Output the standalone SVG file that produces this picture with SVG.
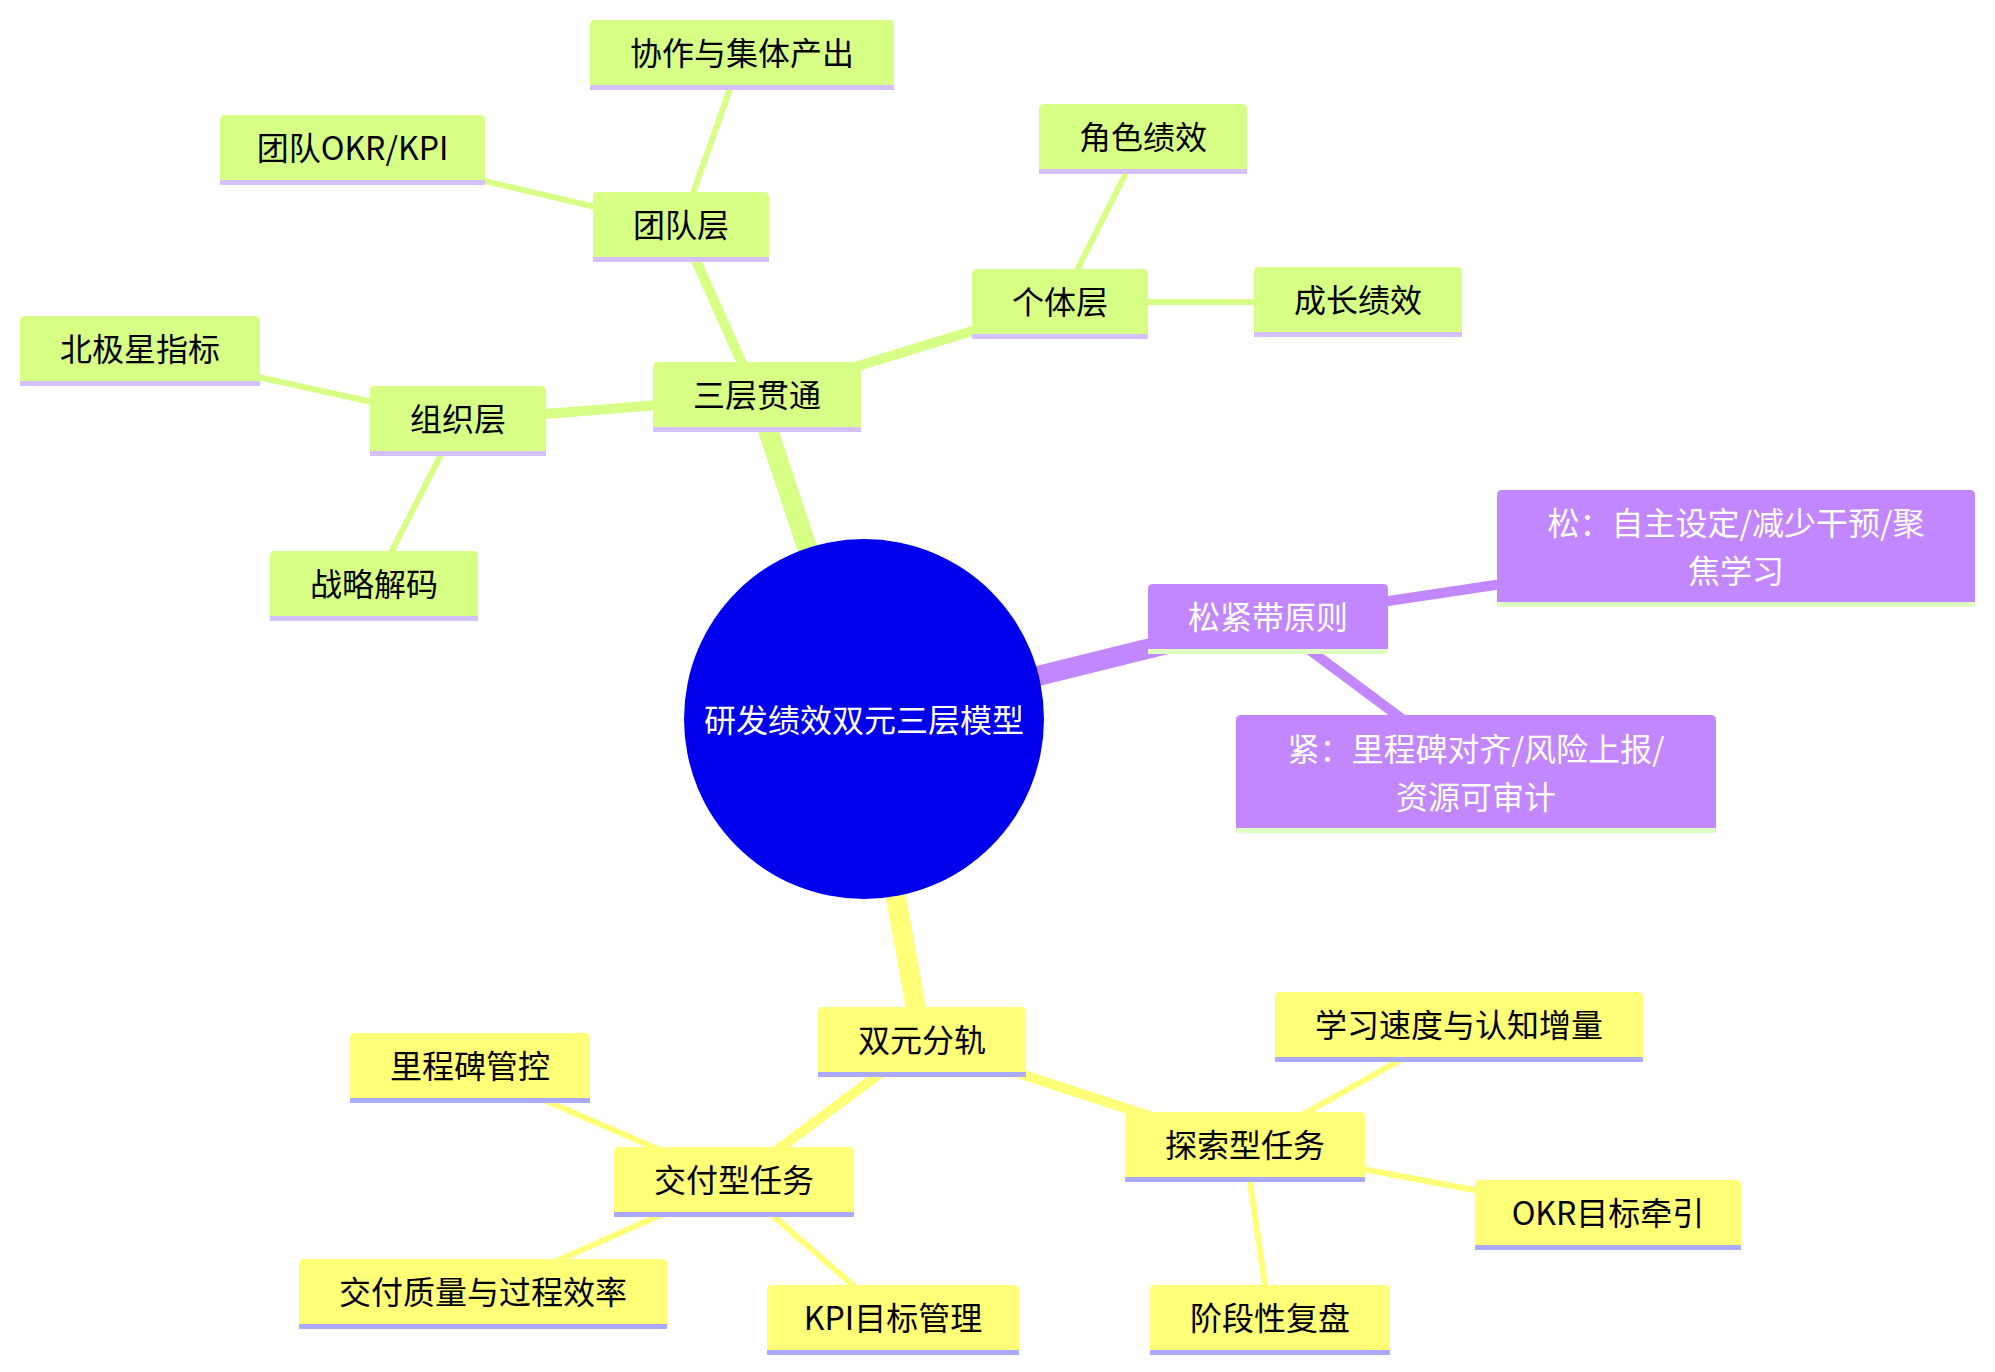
<svg xmlns="http://www.w3.org/2000/svg" width="1995" height="1372" viewBox="0 0 1995 1372">
<style>
.e0{stroke-width:20;fill:none}
.e1{stroke-width:10;fill:none}
.e2{stroke-width:6;fill:none}
.sg{stroke:#d7ff86}
.sp{stroke:#c286ff}
.sy{stroke:#ffff78}
.ng .b{fill:#d7ff86}
.ng .u{fill:#d4bfff}
.np .b{fill:#c286ff}
.np .u{fill:#e0ffc2}
.ny .b{fill:#ffff78}
.ny .u{fill:#aaaaff}
text{font-family:"Noto Sans CJK SC","Noto Sans",sans-serif;font-size:32px;text-anchor:middle;dominant-baseline:central;fill:#000}
.np text,#root text{fill:#fff}
</style>
<rect width="1995" height="1372" fill="#fff"/>
<g id="connectors">
<line class="e0 sg" x1="864" y1="719" x2="757" y2="397"/>
<line class="e0 sp" x1="864" y1="719" x2="1268" y2="619"/>
<line class="e0 sy" x1="864" y1="719" x2="922" y2="1042"/>
<line class="e1 sg" x1="757" y1="397" x2="681" y2="227"/>
<line class="e1 sg" x1="757" y1="397" x2="458" y2="421"/>
<line class="e1 sg" x1="757" y1="397" x2="1060" y2="304"/>
<line class="e1 sp" x1="1268" y1="619" x2="1736" y2="549"/>
<line class="e1 sp" x1="1268" y1="619" x2="1476" y2="774"/>
<line class="e1 sy" x1="922" y1="1042" x2="734" y2="1182"/>
<line class="e1 sy" x1="922" y1="1042" x2="1245" y2="1147"/>
<line class="e2 sg" x1="681" y1="227" x2="742" y2="55"/>
<line class="e2 sg" x1="681" y1="227" x2="352" y2="150"/>
<line class="e2 sg" x1="458" y1="421" x2="140" y2="351"/>
<line class="e2 sg" x1="458" y1="421" x2="374" y2="586"/>
<line class="e2 sg" x1="1060" y1="304" x2="1143" y2="139"/>
<line class="e2 sg" x1="1060" y1="302" x2="1358" y2="302"/>
<line class="e2 sy" x1="734" y1="1182" x2="470" y2="1068"/>
<line class="e2 sy" x1="734" y1="1182" x2="483" y2="1294"/>
<line class="e2 sy" x1="734" y1="1182" x2="893" y2="1320"/>
<line class="e2 sy" x1="1245" y1="1147" x2="1459" y2="1027"/>
<line class="e2 sy" x1="1245" y1="1147" x2="1608" y2="1215"/>
<line class="e2 sy" x1="1245" y1="1147" x2="1270" y2="1320"/>
</g>
<g id="root"><circle cx="864" cy="719" r="180" fill="#0000ec"/><text x="864" y="717.5">研发绩效双元三层模型</text></g>

<g id="n-sancengguantong" class="ng" transform="translate(653,362)"><path class="b" d="M0 65V5Q0 0 5 0H203Q208 0 208 5V65Z"/><rect class="u" y="65" width="208" height="5"/><text x="104" y="31">三层贯通</text></g>
<g id="n-tuanduiceng" class="ng" transform="translate(593,192)"><path class="b" d="M0 65V5Q0 0 5 0H171Q176 0 176 5V65Z"/><rect class="u" y="65" width="176" height="5"/><text x="88" y="31">团队层</text></g>
<g id="n-xiezuo" class="ng" transform="translate(590,20)"><path class="b" d="M0 65V5Q0 0 5 0H299Q304 0 304 5V65Z"/><rect class="u" y="65" width="304" height="5"/><text x="152" y="31">协作与集体产出</text></g>
<g id="n-tuanduiokr" class="ng" transform="translate(220,115)"><path class="b" d="M0 65V5Q0 0 5 0H260Q265 0 265 5V65Z"/><rect class="u" y="65" width="265" height="5"/><text x="132.5" y="31">团队OKR/KPI</text></g>
<g id="n-zuzhiceng" class="ng" transform="translate(370,386)"><path class="b" d="M0 65V5Q0 0 5 0H171Q176 0 176 5V65Z"/><rect class="u" y="65" width="176" height="5"/><text x="88" y="31">组织层</text></g>
<g id="n-beijixing" class="ng" transform="translate(20,316)"><path class="b" d="M0 65V5Q0 0 5 0H235Q240 0 240 5V65Z"/><rect class="u" y="65" width="240" height="5"/><text x="120" y="31">北极星指标</text></g>
<g id="n-zhanlue" class="ng" transform="translate(270,551)"><path class="b" d="M0 65V5Q0 0 5 0H203Q208 0 208 5V65Z"/><rect class="u" y="65" width="208" height="5"/><text x="104" y="31">战略解码</text></g>
<g id="n-getiiceng" class="ng" transform="translate(972,269)"><path class="b" d="M0 65V5Q0 0 5 0H171Q176 0 176 5V65Z"/><rect class="u" y="65" width="176" height="5"/><text x="88" y="31">个体层</text></g>
<g id="n-juese" class="ng" transform="translate(1039,104)"><path class="b" d="M0 65V5Q0 0 5 0H203Q208 0 208 5V65Z"/><rect class="u" y="65" width="208" height="5"/><text x="104" y="31">角色绩效</text></g>
<g id="n-chengzhang" class="ng" transform="translate(1254,267)"><path class="b" d="M0 65V5Q0 0 5 0H203Q208 0 208 5V65Z"/><rect class="u" y="65" width="208" height="5"/><text x="104" y="31">成长绩效</text></g>

<g id="n-songjindai" class="np" transform="translate(1148,584)"><path class="b" d="M0 65V5Q0 0 5 0H235Q240 0 240 5V65Z"/><rect class="u" y="65" width="240" height="5"/><text x="120" y="31">松紧带原则</text></g>
<g id="n-song" class="np" transform="translate(1497,490)"><path class="b" d="M0 112V5Q0 0 5 0H473Q478 0 478 5V112Z"/><rect class="u" y="112" width="478" height="5"/><text x="239"><tspan x="239" y="31">松：自主设定/减少干预/聚</tspan><tspan x="239" y="79">焦学习</tspan></text></g>
<g id="n-jin" class="np" transform="translate(1236,715)"><path class="b" d="M0 113V5Q0 0 5 0H475Q480 0 480 5V113Z"/><rect class="u" y="113" width="480" height="5"/><text x="240"><tspan x="240" y="32">紧：里程碑对齐/风险上报/</tspan><tspan x="240" y="80">资源可审计</tspan></text></g>

<g id="n-shuangyuan" class="ny" transform="translate(818,1007)"><path class="b" d="M0 65V5Q0 0 5 0H203Q208 0 208 5V65Z"/><rect class="u" y="65" width="208" height="5"/><text x="104" y="31">双元分轨</text></g>
<g id="n-jiaofu" class="ny" transform="translate(614,1147)"><path class="b" d="M0 65V5Q0 0 5 0H235Q240 0 240 5V65Z"/><rect class="u" y="65" width="240" height="5"/><text x="120" y="31">交付型任务</text></g>
<g id="n-lichengbei" class="ny" transform="translate(350,1033)"><path class="b" d="M0 65V5Q0 0 5 0H235Q240 0 240 5V65Z"/><rect class="u" y="65" width="240" height="5"/><text x="120" y="31">里程碑管控</text></g>
<g id="n-zhiliang" class="ny" transform="translate(299,1259)"><path class="b" d="M0 65V5Q0 0 5 0H363Q368 0 368 5V65Z"/><rect class="u" y="65" width="368" height="5"/><text x="184" y="31">交付质量与过程效率</text></g>
<g id="n-kpi" class="ny" transform="translate(767,1285)"><path class="b" d="M0 65V5Q0 0 5 0H247Q252 0 252 5V65Z"/><rect class="u" y="65" width="252" height="5"/><text x="126" y="31">KPI目标管理</text></g>
<g id="n-tansuo" class="ny" transform="translate(1125,1112)"><path class="b" d="M0 65V5Q0 0 5 0H235Q240 0 240 5V65Z"/><rect class="u" y="65" width="240" height="5"/><text x="120" y="31">探索型任务</text></g>
<g id="n-xuexi" class="ny" transform="translate(1275,992)"><path class="b" d="M0 65V5Q0 0 5 0H363Q368 0 368 5V65Z"/><rect class="u" y="65" width="368" height="5"/><text x="184" y="31">学习速度与认知增量</text></g>
<g id="n-okr" class="ny" transform="translate(1475,1180)"><path class="b" d="M0 65V5Q0 0 5 0H261Q266 0 266 5V65Z"/><rect class="u" y="65" width="266" height="5"/><text x="133" y="31">OKR目标牵引</text></g>
<g id="n-fupan" class="ny" transform="translate(1150,1285)"><path class="b" d="M0 65V5Q0 0 5 0H235Q240 0 240 5V65Z"/><rect class="u" y="65" width="240" height="5"/><text x="120" y="31">阶段性复盘</text></g>
</svg>
